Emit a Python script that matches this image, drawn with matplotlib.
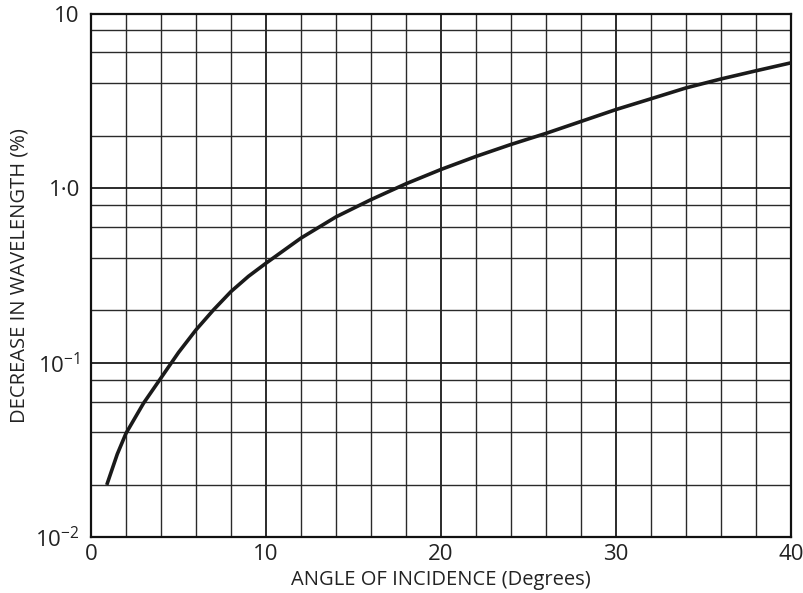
import numpy as np
import matplotlib
matplotlib.use('Agg')
import matplotlib.pyplot as plt

plt.rcParams['font.family'] = ['Open Sans', 'DejaVu Sans']
plt.rcParams['mathtext.fontset'] = 'custom'
plt.rcParams['mathtext.rm'] = 'Open Sans'

# angle of incidence (degrees) and decrease in wavelength (%)
angle = [0.9, 1.5, 2, 3, 4, 5, 6, 7, 8, 9, 10, 12, 14, 16, 18, 20, 22, 24, 26, 28, 30,
         32, 34, 36, 38, 40]
decrease = [0.020, 0.030, 0.0395, 0.0587, 0.082, 0.1146, 0.1545, 0.201, 0.256, 0.313, 0.372,
            0.518, 0.685, 0.86, 1.06, 1.28, 1.52, 1.78, 2.06, 2.41, 2.82, 3.25, 3.75, 4.22, 4.7, 5.22]

x_ticks = [0, 10, 20, 30, 40]
x_labels = ['0', '10', '20', '30', '40']
y_ticks = [0.01, 0.1, 1.0, 10]
y_labels = [r'$10^{-2}$', r'$10^{-1}$', '1·0', '10']

fig = plt.figure(figsize=(8.04, 5.93), dpi=100)
ax = fig.add_axes([0.1132, 0.0936, 0.8706, 0.8836])

ax.set_yscale('log')
ax.set_xlim(0, 40)
ax.set_ylim(0.01, 10)

# grid: every 2 degrees, and 2,4,6,8 in each decade
ax.set_xticks(x_ticks)
ax.set_xticklabels(x_labels)
ax.set_xticks(np.arange(0, 41, 2), minor=True)
ax.set_yticks(y_ticks)
ax.set_yticklabels(y_labels)
minor_y = [m * d for d in (0.01, 0.1, 1.0) for m in (2, 4, 6, 8)]
ax.set_yticks(minor_y, minor=True)
ax.yaxis.set_minor_formatter(plt.NullFormatter())

ax.grid(True, which='major', color='#1a1a1a', linewidth=1.3)
ax.grid(True, which='minor', color='#2a2a2a', linewidth=1.0)
ax.tick_params(which='both', length=0, labelsize=16, colors='#222222')
ax.tick_params(axis='x', pad=5)
ax.tick_params(axis='y', pad=8)

for s in ax.spines.values():
    s.set_linewidth(1.6)
    s.set_color('#111111')

ax.plot(angle, decrease, color='#1a1a1a', linewidth=2.6, solid_capstyle='butt', zorder=5)

ax.set_xlabel('ANGLE OF INCIDENCE (Degrees)', fontsize=14.5, color='#222222', labelpad=3)
ax.set_ylabel('DECREASE IN WAVELENGTH (%)', fontsize=14.5, color='#222222', labelpad=4)

fig.savefig('out.png', dpi=100)
